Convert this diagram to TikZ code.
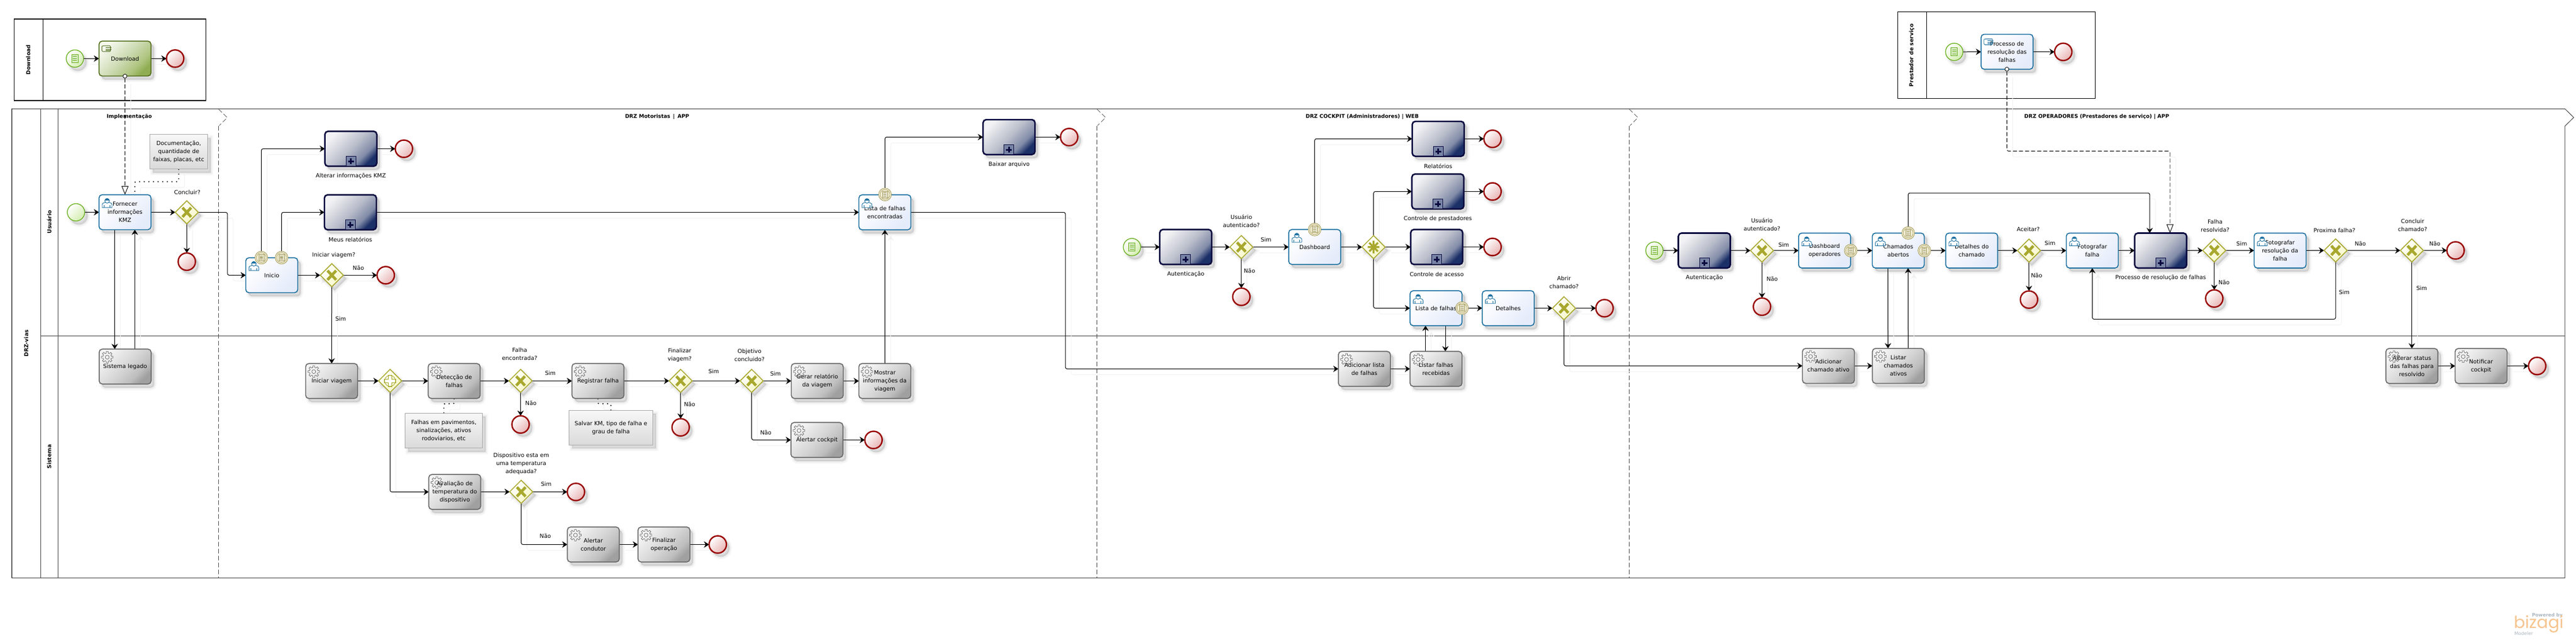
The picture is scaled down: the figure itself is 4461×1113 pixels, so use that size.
\documentclass[tikz,border=0pt]{standalone}
\usepackage{fontspec}
\setmainfont{DejaVu Sans}
\newfontfamily\logofont{Poppins}
\usetikzlibrary{arrows.meta,shapes.geometric,shadows,calc}
\definecolor{taskb}{HTML}{1A6FA0}
\definecolor{taskl}{HTML}{E4EBFA}
\definecolor{svcb}{HTML}{666666}
\definecolor{svcd}{HTML}{A0A0A0}
\definecolor{svcq}{HTML}{BEBEBE}
\definecolor{svcm}{HTML}{D6D6D6}
\definecolor{svcl}{HTML}{F4F4F4}
\definecolor{subb}{HTML}{0A0A40}
\definecolor{subd}{HTML}{1C3068}
\definecolor{subq}{HTML}{828CA8}
\definecolor{subm}{HTML}{BABECB}
\definecolor{subl}{HTML}{F2F2F4}
\definecolor{grnb}{HTML}{4F6B1A}
\definecolor{grnd}{HTML}{8FAD52}
\definecolor{grnq}{HTML}{AEC47F}
\definecolor{grnm}{HTML}{CBD9B0}
\definecolor{grnl}{HTML}{F4F8EC}
\definecolor{stb}{HTML}{69B01F}
\definecolor{stl}{HTML}{D4EDB0}
\definecolor{endb}{HTML}{990000}
\definecolor{endl}{HTML}{E8B4B4}
\definecolor{gwb}{HTML}{A8A82E}
\definecolor{gwl}{HTML}{F6F6C4}
\definecolor{bndb}{HTML}{A59B5C}
\definecolor{bndl}{HTML}{F4F0D8}
\definecolor{notel}{HTML}{DADADA}
\definecolor{noteb}{HTML}{A8A8A8}
\definecolor{poolc}{HTML}{4A4A4A}
\definecolor{logoo}{HTML}{F6C48E}
\definecolor{logog}{HTML}{A9B4BE}
\pgfdeclareverticalshading{subsh}{100bp}{color(0bp)=(subd); color(25bp)=(subd); color(34bp)=(subq); color(50bp)=(subm); color(75bp)=(subl); color(100bp)=(subl)}
\pgfdeclareverticalshading{svcsh}{100bp}{color(0bp)=(svcd); color(25bp)=(svcd); color(34bp)=(svcq); color(50bp)=(svcm); color(75bp)=(svcl); color(100bp)=(svcl)}
\pgfdeclareverticalshading{grnsh}{100bp}{color(0bp)=(grnd); color(25bp)=(grnd); color(34bp)=(grnq); color(50bp)=(grnm); color(75bp)=(grnl); color(100bp)=(grnl)}
\pgfdeclarelayer{back}\pgfdeclarelayer{conn}
\pgfsetlayers{back,conn,main}
\tikzset{
 shad/.style={
   general shadow={shadow xshift=5pt,shadow yshift=-6pt,fill=black,draw=black,line width=10pt,opacity=.018},
   general shadow={shadow xshift=5pt,shadow yshift=-6pt,fill=black,draw=black,line width=7pt,opacity=.022},
   general shadow={shadow xshift=5pt,shadow yshift=-6pt,fill=black,draw=black,line width=4pt,opacity=.03},
   general shadow={shadow xshift=5pt,shadow yshift=-6pt,fill=black,draw=black,line width=1.5pt,opacity=.04}},
 txt/.style={font=\fontsize{9.8}{14}\selectfont,align=center,inner sep=0pt,outer sep=0pt,text=black},
 boxbase/.style={txt,rectangle,rounded corners=5.5pt,minimum width=90pt,minimum height=60.5pt,text width=88pt,shad},
 utaskst/.style={boxbase,draw=taskb,line width=1.6pt,top color=white,bottom color=taskl,shading angle=45},
 staskst/.style={boxbase,draw=svcb,line width=1.6pt,shading=svcsh,shading angle=45},
 gtaskst/.style={boxbase,draw=grnb,line width=1.6pt,shading=grnsh,shading angle=45},
 subst/.style={boxbase,draw=subb,line width=2.6pt,shading=subsh,shading angle=45},
 startst/.style={circle,minimum size=30pt,inner sep=0pt,outer sep=0pt,draw=stb,line width=1.3pt,top color=white,bottom color=stl,shading angle=45,shad},
 endst/.style={circle,minimum size=30pt,inner sep=0pt,outer sep=0pt,draw=endb,line width=2.4pt,top color=white,bottom color=endl,shading angle=45,shad},
 gwst/.style={diamond,minimum width=40pt,minimum height=40pt,inner sep=0pt,outer sep=0pt,draw=gwb,line width=1.5pt,top color=white,bottom color=gwl,shading angle=45,shad},
 bndst/.style={circle,minimum size=22pt,inner sep=0pt,outer sep=0pt,draw=bndb,line width=.9pt,fill=bndl},
 notest/.style={txt,rectangle,draw=noteb,line width=.8pt,top color=white!97!black,bottom color=notel,shad},
 lbl/.style={txt},
 lane/.style={font=\fontsize{9.3}{11}\bfseries\selectfont,inner sep=0pt,rotate=90},
 phase/.style={font=\fontsize{9}{11}\bfseries\selectfont,inner sep=0pt},
 flow/.style={line width=1pt,rounded corners=3pt,-{Stealth[length=9pt,width=11pt,inset=3pt]},
   preaction={draw=black!5,line width=1pt,transform canvas={xshift=10pt,yshift=-10pt}}},
 msg/.style={line width=.9pt,rounded corners=3pt,dash pattern=on 7pt off 3.5pt,-{Triangle[open,fill=white,length=15pt,width=12pt]},
   preaction={draw=black!5,solid,line width=1pt,transform canvas={xshift=10pt,yshift=-10pt}}},
 dotl/.style={line width=1.6pt,rounded corners=2pt,dash pattern=on 1.6pt off 6.4pt,
   preaction={draw=black!5,solid,line width=1pt,transform canvas={xshift=10pt,yshift=-10pt}}},
 pool/.style={draw=poolc,line width=1pt},
 phasel/.style={draw=poolc,line width=.7pt,dash pattern=on 8pt off 4pt},
 usericon/.pic={
   \draw[taskb,line width=.9pt,fill=white] (-8.5,8) -- (-8.5,3) .. controls (-8.5,0) and (-4,0) .. (-3,-1) -- (3,-1) .. controls (4,0) and (8.5,0) .. (8.5,3) -- (8.5,8) -- cycle;
   \draw[taskb,line width=.7pt] (-5,8) -- (-5,4) (5,8) -- (5,4);
   \fill[white] (0,-3.5) circle[radius=4];
   \draw[taskb,line width=.9pt] (0,-3.5) circle[radius=4];
   \fill[taskb] (-4,-4) .. controls (-3,-9) and (3,-9) .. (4,-4) -- cycle;
 },
 gearicon/.pic={
   \foreach \a in {0,45,...,315}{
     \draw[svcb,line width=.7pt] ({\a-31}:7.2) -- ({\a-14}:7.2) -- ({\a-9}:10.2) -- ({\a+9}:10.2) -- ({\a+14}:7.2);
   }
   \draw[svcb,line width=.7pt] (0,0) circle[radius=3.4];
 },
 handicon/.pic={
   \draw[#1,line width=.9pt,rounded corners=1.5pt] (-8,-4) -- (-8,5) -- (7,5) -- (7,-5) -- (-6,-5) -- (-8,-4);
   \draw[#1,line width=.9pt] (-2,-1.5) -- (8,-1.5) (-2,1) -- (8,1) (-2,3.5) -- (6,3.5);
 },
 docicon/.pic={
   \draw[#1,line width=1pt,fill=#1!25] (-5.5,-7) rectangle (5.5,7);
   \draw[#1,line width=1.1pt] (-3.5,-3.5) -- (3.5,-3.5) (-3.5,0) -- (3.5,0) (-3.5,3.5) -- (3.5,3.5);
 },
 xmark/.pic={\draw[gwb,line width=4.8pt] (-7.5,-8) -- (7.5,8) (-7.5,8) -- (7.5,-8);},
 plusmark/.pic={
   \draw[gwb,line width=.8pt,fill=white] (-2.8,-10) -- (2.8,-10) -- (2.8,-2.8) -- (10,-2.8) -- (10,2.8) -- (2.8,2.8) -- (2.8,10) -- (-2.8,10) -- (-2.8,2.8) -- (-10,2.8) -- (-10,-2.8) -- (-2.8,-2.8) -- cycle;
   \draw[gwb,line width=.8pt] (0,0) circle[radius=9.5];
 },
 starmark/.pic={\draw[gwb,line width=3.4pt] (0,-11) -- (0,11) (-10,0) -- (10,0) (-7.5,-7.5) -- (7.5,7.5) (-7.5,7.5) -- (7.5,-7.5);},
 submark/.pic={
   \draw[subb,line width=1pt,fill=subd!60!white] (-8.5,-17.5) rectangle (8.5,0);
   \draw[subb,line width=3pt] (-5,-8.5) -- (5,-8.5) (0,-13.5) -- (0,-3.5);
 }
}
\newcommand{\utask}[4]{\node[utaskst] (#1) at (#2,#3) {#4};\pic at ([shift={(14,14)}]#1.north west) {usericon};}
\newcommand{\stask}[4]{\node[staskst] (#1) at (#2,#3) {#4};\pic at ([shift={(14,14)}]#1.north west) {gearicon};}
\newcommand{\subp}[4]{\node[subst] (#1) at (#2,#3) {};\pic at (#1.south) {submark};\node[lbl] (#1lb) at ($(#1.south)+(0,17)$) {#4};}
\newcommand{\startdoc}[3]{\node[startst] (#1) at (#2,#3) {};\pic at (#1) {docicon=stb};}
\newcommand{\evend}[3]{\node[endst] (#1) at (#2,#3) {};}
\newcommand{\gwx}[3]{\node[gwst] (#1) at (#2,#3) {};\pic at (#1) {xmark};}
\newcommand{\bnd}[3]{\node[bndst] (#1) at (#2,#3) {};\draw[bndb,line width=.7pt] (#1) circle[radius=8.5];\pic[scale=.8] at (#1) {docicon=bndb};}
\newcommand{\lab}[4]{\node[lbl] (#1) at (#2,#3) {#4};}
\begin{document}
\begin{tikzpicture}[x=1pt,y=-1pt]
\useasboundingbox (0,0) rectangle (4461,1113);
\begin{pgfonlayer}{back}
% pools
\draw[line width=1.1pt] (24.4,33) rectangle (356.5,174);
\draw[line width=1.1pt] (74.6,33) -- (74.6,174);
\draw[line width=1.1pt] (3286.6,20.4) rectangle (3628.4,170.4);
\draw[line width=1.1pt] (3336.4,20.4) -- (3336.4,170.4);
\draw[pool] (20.6,188.3) -- (4441.7,188.3) -- (4457,203.3) -- (4441.7,218.3) -- (4441.7,1000.3) -- (20.6,1000.3) -- cycle;
\draw[pool] (70.5,188.3) -- (70.5,1000.3);
\draw[pool] (100.4,188.3) -- (100.4,1000.3);
\draw[pool] (70.5,581.3) -- (4441.7,581.3);
\draw[line width=1.3pt] (20.6,188.3) -- (20.6,1000.3);
\foreach \px in {378.5,1899.7,2821.5}{
  \draw[phasel] (\px,189) -- (\px+15,203.5) -- (\px+1,217.5);
  \draw[phasel] (\px,218) -- (\px,1000);
}
\end{pgfonlayer}
% pool, lane and phase titles
\node[lane] (tdl) at (49,103.5) {Download};
\node[lane] (tps) at (3310.8,95.8) {Prestador de serviço};
\node[lane] (tdrz) at (45.3,594.3) {DRZ-vias};
\node[lane] (tusu) at (85.2,384.3) {Usuário};
\node[lane] (tsis) at (85.2,790.5) {Sistema};
\node[phase] (ph1) at (224,202) {Implementação};
\node[phase] (ph2) at (1138,202) {DRZ Motoristas \,|\, APP};
\node[phase] (ph3) at (2359,202) {DRZ COCKPIT (Administradores) | WEB};
\node[phase] (ph4) at (3631,202) {DRZ OPERADORES (Prestadores de serviço) | APP};
% Download pool
\startdoc{sa}{129.7}{101.4}
\node[gtaskst] (dl) at (216.5,101.4) {Download};
\pic at ([shift={(13,13)}]dl.north west) {handicon=grnb};
\evend{ea}{303.3}{101.4}
\node[circle,draw=black,line width=.8pt,fill=white,minimum size=7pt,inner sep=0pt] (ma) at (216.4,131.8) {};
% Prestador pool
\startdoc{sb}{3384.2}{89.8}
\node[utaskst] (pr) at (3475.7,89.6) {Processo de\\resolução das\\falhas};
\pic at ([shift={(13,13)}]pr.north west) {handicon=taskb};
\evend{eb}{3573}{89.8}
\node[circle,draw=black,line width=.8pt,fill=white,minimum size=7pt,inner sep=0pt] (mb) at (3475.4,119.7) {};
% Implementacao
\node[startst] (s2) at (131.6,367.5) {};
\utask{forn}{216.5}{367.3}{Fornecer\\informações\\KMZ}
\node[notest,minimum width=100pt,minimum height=60pt] (n1) at (309.5,262.5) {Documentação,\\quantidade de\\faixas, placas, etc};
\gwx{g1}{323.5}{367.5}
\lab{lg1}{324.4}{333}{Concluir?}
\evend{e2}{323.5}{452.9}
\stask{sist}{216.7}{634.5}{Sistema legado}
% Motoristas
\utask{ini}{470.6}{476.4}{Inicio}
\bnd{b1}{452.6}{446}
\bnd{b2}{487.6}{446}
\subp{alt}{607.6}{257.5}{Alterar informações KMZ}
\evend{e3}{699.5}{257.5}
\subp{meus}{606.8}{367.5}{Meus relatórios}
\gwx{g2}{574.6}{476.4}
\lab{lg2}{578}{441.4}{Iniciar viagem?}
\lab{l1}{620.6}{464}{Não}
\evend{e4}{668}{476.4}
\lab{l2}{590}{551.4}{Sim}
\stask{iv}{574.3}{659.5}{Iniciar viagem}
\node[gwst] (pg) at (675.5,659.3) {};\pic at (pg) {plusmark};
\stask{det}{786.5}{659.5}{Detecção de\\falhas}
\gwx{g3}{901.5}{659.3}
\lab{lg3}{900}{613}{Falha\\encontrada?}
\lab{l3}{953}{646}{Sim}
\lab{l4}{919.4}{698}{Não}
\evend{e5}{901.5}{734.7}
\stask{reg}{1035.5}{659.5}{Registrar falha}
\gwx{g4}{1178.7}{659.3}
\lab{lg4}{1177}{615}{Finalizar\\viagem?}
\lab{l5}{1194.3}{700}{Não}
\lab{l6}{1236}{643.3}{Sim}
\evend{e6}{1178.7}{739.7}
\gwx{g5}{1301.7}{659.3}
\lab{lg5}{1298}{615}{Objetivo\\concluido?}
\lab{l7}{1343}{647}{Sim}
\lab{l8}{1326.3}{748.3}{Não}
\stask{ger}{1415.3}{659.5}{Gerar relatório\\da viagem}
\stask{mos}{1532.3}{659.5}{Mostrar\\informações da\\viagem}
\stask{alc}{1414.7}{761.5}{Alertar cockpit}
\evend{e7}{1512.7}{761.5}
\node[notest,minimum width=134pt,minimum height=60.5pt] (n2) at (768.6,745.5) {Falhas em pavimentos,\\sinalizações, ativos\\rodoviarios, etc};
\node[notest,minimum width=145pt,minimum height=60pt] (n3) at (1058,740.3) {Salvar KM, tipo de falha e\\grau de falha};
\stask{ava}{787.5}{851.5}{Avaliação de\\temperatura do\\dispositivo}
\gwx{g6}{902.6}{851.3}
\lab{lg6}{902.6}{803}{Dispositivo esta em\\uma temperatura\\adequada?}
\lab{l9}{946}{838}{Sim}
\evend{e8}{997.4}{851.5}
\lab{l10}{944.4}{928}{Não}
\stask{acd}{1027.5}{942.5}{Alertar\\condutor}
\stask{fin}{1149.8}{942.5}{Finalizar\\operação}
\evend{e9}{1243}{942.5}
\utask{lf}{1532.4}{367.5}{Lista de falhas\\encontradas}
\bnd{b3}{1532.6}{336.7}
\subp{bai}{1747.4}{237.3}{Baixar arquivo}
\evend{e10}{1851.5}{237.3}
% Cockpit
\startdoc{sc}{1960.3}{427.7}
\subp{au1}{2053.4}{427.5}{Autenticação}
\gwx{g7}{2149.7}{427.7}
\lab{lg7}{2149.7}{383}{Usuário\\autenticado?}
\lab{l11}{2192.5}{415}{Sim}
\lab{l12}{2163.8}{469}{Não}
\evend{e11}{2149.7}{513.7}
\utask{dash}{2276.7}{427.5}{Dashboard}
\bnd{b4}{2276.6}{397.3}
\subp{rel}{2490.6}{240.3}{Relatórios}
\evend{e12}{2584.7}{240.3}
\subp{pre}{2490}{331.5}{Controle de prestadores}
\evend{e13}{2584.7}{331.5}
\node[gwst] (cg) at (2378.7,427.7) {};\pic at (cg) {starmark};
\subp{ace}{2488}{427.5}{Controle de acesso}
\evend{e14}{2584.7}{427.5}
\utask{lf2}{2486.8}{533.5}{Lista de falhas}
\bnd{b5}{2531.8}{533.3}
\utask{de2}{2611.8}{533.5}{Detalhes}
\gwx{g8}{2708.4}{533.5}
\lab{lg8}{2708.4}{489.3}{Abrir\\chamado?}
\evend{e15}{2778.6}{533.5}
\stask{adl}{2362.8}{638.5}{Adicionar lista\\de falhas}
\stask{lsf}{2486.8}{638.5}{Listar falhas\\recebidas}
% Operadores
\startdoc{sd}{2865}{433.7}
\subp{au2}{2951.5}{433.7}{Autenticação}
\gwx{g9}{3051.3}{433.7}
\lab{lg9}{3051.3}{389}{Usuário\\autenticado?}
\lab{l13}{3089}{423.7}{Sim}
\lab{l14}{3069}{483}{Não}
\evend{e16}{3051.3}{530.8}
\utask{dop}{3159.7}{433.7}{Dashboard\\operadores}
\bnd{b6}{3205}{433.7}
\utask{cha}{3287.3}{433.7}{Chamados\\abertos}
\bnd{b7}{3304.5}{403.3}
\bnd{b8}{3332.5}{433.7}
\utask{dch}{3414.5}{433.7}{Detalhes do\\chamado}
\gwx{g10}{3513.7}{433.7}
\lab{lg10}{3512.5}{397}{Aceitar?}
\lab{l15}{3550}{421}{Sim}
\lab{l16}{3527}{477}{Não}
\evend{e17}{3513.7}{518.6}
\utask{fot}{3623.3}{433.7}{Fotografar\\falha}
\subp{prc}{3741.7}{433.7}{Processo de resolução de falhas}
\gwx{g11}{3834.5}{433.5}
\lab{lg11}{3836}{391}{Falha\\resolvida?}
\lab{l17}{3882}{422}{Sim}
\lab{l18}{3851.5}{489}{Não}
\evend{e18}{3834.5}{516.7}
\utask{fre}{3948.5}{433.7}{Fotografar\\resolução da\\falha}
\gwx{g12}{4044.7}{433.5}
\lab{lg12}{4042.7}{399}{Proxima falha?}
\lab{l19}{4087.4}{422}{Não}
\lab{l20}{4059.7}{506.3}{Sim}
\gwx{g13}{4176.7}{433.5}
\lab{lg13}{4178}{390.3}{Concluir\\chamado?}
\lab{l21}{4216.5}{422}{Não}
\evend{e19}{4252.4}{433.5}
\lab{l22}{4193.7}{499.3}{Sim}
\stask{adc}{3166.4}{633.3}{Adicionar\\chamado ativo}
\stask{lsc}{3287.5}{633.3}{Listar\\chamados\\ativos}
\stask{als}{4176.7}{633.5}{Alterar status\\das falhas para\\resolvido}
\stask{nco}{4296.6}{633.5}{Notificar\\cockpit}
\evend{e20}{4393.7}{633.5}
% logo
\node[inner sep=0pt,anchor=east,font=\fontsize{8}{9}\bfseries\selectfont,text=logog] (lo1) at (4438,1065) {Powered by};
\node[inner sep=0pt,anchor=west,font=\logofont\fontsize{29}{30}\selectfont,text=logoo] (lo2) at (4353,1080) {bizagi};
\node[inner sep=0pt,anchor=west,font=\fontsize{8}{9}\selectfont,text=logog] (lo3) at (4354,1097) {Modeler};
% connectors
\begin{pgfonlayer}{conn}
\draw[flow] (sa) -- (dl);
\draw[flow] (dl) -- (ea);
\draw[msg] (ma.south) -- (forn.north);
\draw[flow] (sb) -- (pr);
\draw[flow] (pr) -- (eb);
\draw[msg] (mb.south) -- ++(0,138) -| ([xshift=16.2pt]prc.north);
\draw[dotl] (n1.south) -- ++(0,22) -| ([xshift=17pt]forn.north);
\draw[flow] (s2) -- (forn);
\draw[flow] (forn) -- (g1);
\draw[flow] (g1) -- (e2);
\draw[flow] ([xshift=-18pt]forn.south) -- ([xshift=-18pt]sist.north);
\draw[flow] ([xshift=16.8pt]sist.north) -- ([xshift=17pt]forn.south);
\coordinate (w1) at (393.8,476.4);
\draw[flow] (g1.east) -| (w1) -- (ini.west);
\draw[flow] (ini) -- (g2);
\draw[flow] (g2) -- (e4);
\draw[flow] (g2) -- (iv);
\draw[flow] (b1.north) |- (alt.west);
\draw[flow] (b2.north) |- (meus.west);
\draw[flow] (alt) -- (e3);
\draw[flow] (meus) -- (lf);
\draw[flow] (iv) -- (pg);
\draw[flow] (pg) -- (det);
\draw[flow] (det) -- (g3);
\draw[flow] (g3) -- (reg);
\draw[flow] (g3) -- (e5);
\draw[flow] (reg) -- (g4);
\draw[flow] (g4) -- (g5);
\draw[flow] (g4) -- (e6);
\draw[flow] (g5) -- (ger);
\draw[flow] (ger) -- (mos);
\draw[flow] (mos) -- (lf);
\draw[flow] (g5.south) |- (alc.west);
\draw[flow] (alc) -- (e7);
\draw[flow] (pg.south) |- (ava.west);
\draw[flow] (ava) -- (g6);
\draw[flow] (g6) -- (e8);
\draw[flow] (g6.south) |- (acd.west);
\draw[flow] (acd) -- (fin);
\draw[flow] (fin) -- (e9);
\draw[dotl] (det.south) -- ++(0,9) -| (n2.north);
\draw[dotl] (reg.south) -- ++(0,9) -| (n3.north);
\draw[flow] (b3.north) |- (bai.west);
\draw[flow] (bai) -- (e10);
\coordinate (w2) at (1845,638.5);
\draw[flow] (lf.east) -| (w2) -- (adl.west);
\draw[flow] (sc) -- (au1);
\draw[flow] (au1) -- (g7);
\draw[flow] (g7) -- (e11);
\draw[flow] (g7) -- (dash);
\draw[flow] (dash) -- (cg);
\draw[flow] (b4.north) |- (rel.west);
\draw[flow] (rel) -- (e12);
\draw[flow] (cg.north) |- (pre.west);
\draw[flow] (pre) -- (e13);
\draw[flow] (cg) -- (ace);
\draw[flow] (ace) -- (e14);
\draw[flow] (cg.south) |- (lf2.west);
\draw[flow] (b5) -- (de2);
\draw[flow] (de2) -- (g8);
\draw[flow] (g8) -- (e15);
\draw[flow] (g8.south) |- (adc.west);
\draw[flow] (adl) -- (lsf);
\draw[flow] ([xshift=-18.2pt]lsf.north) -- ([xshift=-18.2pt]lf2.south);
\draw[flow] ([xshift=16.2pt]lf2.south) -- ([xshift=16.2pt]lsf.north);
\draw[flow] (sd) -- (au2);
\draw[flow] (au2) -- (g9);
\draw[flow] (g9) -- (e16);
\draw[flow] (g9) -- (dop);
\draw[flow] (b6) -- (cha);
\draw[flow] (b8) -- (dch);
\draw[flow] (b7.north) -- ++(0,-58.3) -| ([xshift=-19pt]prc.north);
\draw[flow] ([xshift=-18pt]cha.south) -- ([xshift=-18pt]lsc.north);
\draw[flow] ([xshift=17pt]lsc.north) -- ([xshift=17pt]cha.south);
\draw[flow] (adc) -- (lsc);
\draw[flow] (dch) -- (g10);
\draw[flow] (g10) -- (e17);
\draw[flow] (g10) -- (fot);
\draw[flow] (fot) -- (prc);
\draw[flow] (prc) -- (g11);
\draw[flow] (g11) -- (e18);
\draw[flow] (g11) -- (fre);
\draw[flow] (fre) -- (g12);
\draw[flow] (g12) -- (g13);
\draw[flow] (g12.south) -- ++(0,99) -| (fot.south);
\draw[flow] (g13) -- (e19);
\draw[flow] (g13) -- (als);
\draw[flow] (als) -- (nco);
\draw[flow] (nco) -- (e20);
\end{pgfonlayer}
\end{tikzpicture}
\end{document}
